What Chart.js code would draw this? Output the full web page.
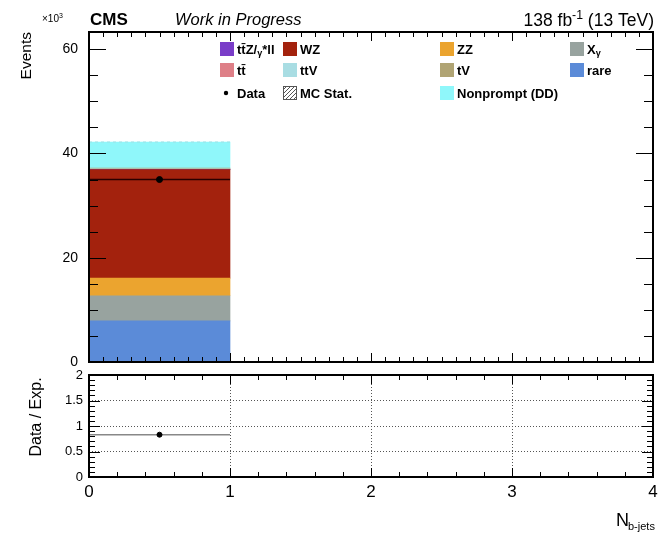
<!DOCTYPE html>
<html>
<head>
<meta charset="utf-8">
<script src="https://cdn.jsdelivr.net/npm/chart.js@4.4.1/dist/chart.umd.min.js"></script>
<style>
html, body { margin: 0; padding: 0; background: #fff; }
#wrap { position: relative; width: 658px; height: 533px; }
#topChart { position: absolute; left: 0; top: 0; }
#ratioChart { position: absolute; left: 0; top: 362px; }
</style>
</head>
<body>
<div id="wrap">
    <canvas id="topChart" width="658" height="370"></canvas>
    <canvas id="ratioChart" width="658" height="171"></canvas>
</div>
<script>
// bins of N_b-jets (edges)
var binEdges = [0, 1, 2, 3, 4];

// stacked backgrounds, events x 10^3 per bin (bottom of stack first)
var rare = [7.9, 0, 0, 0];
var xgamma = [4.8, 0, 0, 0];
var zz = [3.4, 0, 0, 0];
var wz = [20.8, 0, 0, 0];
var ttz = [0.05, 0, 0, 0];
var ttbar = [0.02, 0, 0, 0];
var ttv = [0.08, 0, 0, 0];
var tv = [0.15, 0, 0, 0];
var nonprompt = [5.0, 0, 0, 0];

// observed data, events x 10^3
var dataObs = [35.0, null, null, null];

var yTicksTop = [0, 20, 40, 60];
var yTicksRatio = [0, 0.5, 1, 1.5, 2];

var FONT = "'Liberation Sans', Arial, Helvetica, sans-serif";

var procs = [
    { key: "rare", label: "rare", values: rare, color: "#5b8bd8" },
    { key: "xg", label: "Xγ", values: xgamma, color: "#98a39f" },
    { key: "zz", label: "ZZ", values: zz, color: "#eba42f" },
    { key: "wz", label: "WZ", values: wz, color: "#a3220d" },
    { key: "ttz", label: "tt̄Z/γ*ll", values: ttz, color: "#7a3dc8" },
    { key: "tt", label: "tt̄", values: ttbar, color: "#de7f87" },
    { key: "ttv", label: "ttV", values: ttv, color: "#a9dde3" },
    { key: "tv", label: "tV", values: tv, color: "#b0a474" },
    { key: "np", label: "Nonprompt (DD)", values: nonprompt, color: "#8ff7fa" }
];

// total expectation per bin
var totalExp = binEdges.slice(0, -1).map(function (e, i) {
    let s = 0;
    procs.forEach(function (p) { s += p.values[i]; });
    return s;
});
var ratioVals = dataObs.map(function (d, i) {
    if (d === null || totalExp[i] <= 0) return null;
    return d / totalExp[i];
});

// helpers building points from bins
function binCentres(vals) {
    let out = [];
    vals.forEach(function (v, i) {
        if (v !== null) out.push({ x: (binEdges[i] + binEdges[i + 1]) / 2, y: v });
    });
    return out;
}
function binSpans(vals) {
    let out = [];
    vals.forEach(function (v, i) {
        if (v !== null) {
            out.push({ x: binEdges[i], y: v });
            out.push({ x: binEdges[i + 1], y: v });
            out.push({ x: NaN, y: NaN });
        }
    });
    return out;
}

// no automatic label padding, the frame is placed by layout.padding
function noPad(scale) {
    scale.paddingTop = 0;
    scale.paddingBottom = 0;
    scale.paddingLeft = 0;
    scale.paddingRight = 0;
}

// ROOT-like frame and inward ticks
var rootFrame = {
    id: "rootFrame",
    afterDraw: function (chart, args, opts) {
        let ctx = chart.ctx;
        let a = chart.chartArea;
        let ys = chart.scales.y;
        let xs = chart.scales[opts.xId];
        ctx.save();
        ctx.strokeStyle = "#000";
        ctx.lineWidth = 1;
        ctx.beginPath();
        let nMinor = Math.round((ys.max - ys.min) / opts.yMinor);
        for (let i = 0; i <= nMinor + 1; i++) {
            let v = ys.min + i * opts.yMinor;
            if (v > ys.max + 1e-9) break;
            let major = Math.abs(v / opts.yMajor - Math.round(v / opts.yMajor)) < 1e-6;
            let len = major ? opts.yMajorLen : opts.yMinorLen;
            let py = Math.round(ys.getPixelForValue(v)) + 0.5;
            ctx.moveTo(a.left, py); ctx.lineTo(a.left + len, py);
            ctx.moveTo(a.right, py); ctx.lineTo(a.right - len, py);
        }
        let nx = Math.round((xs.max - xs.min) / opts.xMinor);
        for (let i = 0; i <= nx; i++) {
            let v = xs.min + i * opts.xMinor;
            let major = Math.abs(v - Math.round(v)) < 1e-6;
            let len = major ? opts.xMajorLen : opts.xMinorLen;
            let px = Math.round(xs.getPixelForValue(v)) + 0.5;
            ctx.moveTo(px, a.bottom); ctx.lineTo(px, a.bottom - len);
            ctx.moveTo(px, a.top); ctx.lineTo(px, a.top + len);
        }
        ctx.stroke();
        ctx.lineWidth = 2;
        ctx.strokeRect(a.left, a.top, a.right - a.left, a.bottom - a.top);
        ctx.restore();
    }
};

// draw text made of parts, sub/sup parts are smaller
function richText(ctx, parts, x, y, size, weight, align) {
    let w = 0;
    parts.forEach(function (p) {
        let s = p.s ? size * 0.7 : size;
        ctx.font = weight + " " + s + "px " + FONT;
        p.w = ctx.measureText(p.t).width;
        w += p.w;
    });
    let cx = align === "right" ? x - w : x;
    parts.forEach(function (p) {
        let s = p.s ? size * 0.7 : size;
        ctx.font = weight + " " + s + "px " + FONT;
        let dy = p.s === "sub" ? size * 0.25 : (p.s === "sup" ? -size * 0.4 : 0);
        ctx.fillText(p.t, cx, y + dy);
        cx += p.w;
    });
}

var legendParts = {
    ttz: [{ t: "tt̄Z/" }, { t: "γ", s: "sub" }, { t: "*ll" }],
    xg: [{ t: "X" }, { t: "γ", s: "sub" }]
};

var topDecor = {
    id: "topDecor",
    afterDraw: function (chart) {
        let ctx = chart.ctx;
        ctx.save();
        ctx.fillStyle = "#000";
        ctx.textBaseline = "alphabetic";
        ctx.font = "bold 17px " + FONT;
        ctx.fillText("CMS", 90, 25);
        ctx.font = "italic 16.5px " + FONT;
        ctx.fillText("Work in Progress", 175, 25);
        richText(ctx, [{ t: "138 fb" }, { t: "-1", s: "sup" }, { t: " (13 TeV)" }], 654, 26, 17.5, "normal", "right");
        richText(ctx, [{ t: "×10" }, { t: "3", s: "sup" }], 42, 22, 10, "normal", "left");

        // y title
        ctx.save();
        ctx.translate(31, 32);
        ctx.rotate(-Math.PI / 2);
        ctx.font = "15.5px " + FONT;
        ctx.textAlign = "right";
        ctx.fillText("Events", 0, 0);
        ctx.restore();

        // legend
        let cols = [220, 283, 440, 570];
        let rows = [49, 70, 93];
        let layout = [
            ["ttz", 0, 0], ["wz", 1, 0], ["zz", 2, 0], ["xg", 3, 0],
            ["tt", 0, 1], ["ttv", 1, 1], ["tv", 2, 1], ["rare", 3, 1],
            ["np", 2, 2]
        ];
        ctx.textBaseline = "middle";
        layout.forEach(function (l) {
            let p = procs.find(function (q) { return q.key === l[0]; });
            let x = cols[l[1]], y = rows[l[2]];
            ctx.fillStyle = p.color;
            ctx.fillRect(x, y - 7, 14, 14);
            ctx.fillStyle = "#000";
            let parts = legendParts[p.key] || [{ t: p.label }];
            richText(ctx, parts, x + 17, y + 1, 13, "bold", "left");
        });
        // data entry
        ctx.beginPath();
        ctx.arc(cols[0] + 6, rows[2], 2.2, 0, Math.PI * 2);
        ctx.fill();
        ctx.font = "bold 13px " + FONT;
        ctx.fillText("Data", cols[0] + 17, rows[2] + 1);
        // MC stat entry, hatched box
        let hx = cols[1], hy = rows[2] - 7;
        ctx.strokeStyle = "#555";
        ctx.lineWidth = 1;
        ctx.strokeRect(hx + 0.5, hy + 0.5, 13, 13);
        ctx.save();
        ctx.beginPath();
        ctx.rect(hx, hy, 14, 14);
        ctx.clip();
        ctx.beginPath();
        for (let k = -14; k < 14; k += 4) {
            ctx.moveTo(hx + k, hy + 14);
            ctx.lineTo(hx + k + 14, hy);
        }
        ctx.stroke();
        ctx.restore();
        ctx.fillStyle = "#000";
        ctx.fillText("MC Stat.", cols[1] + 17, rows[2] + 1);
        ctx.restore();
    }
};

var ratioDecor = {
    id: "ratioDecor",
    afterDraw: function (chart) {
        let ctx = chart.ctx;
        ctx.save();
        ctx.fillStyle = "#000";
        ctx.translate(41, 0);
        ctx.rotate(-Math.PI / 2);
        ctx.font = "16px " + FONT;
        ctx.textAlign = "center";
        ctx.fillText("Data / Exp.", -55, 0);
        ctx.restore();
        ctx.save();
        ctx.fillStyle = "#000";
        ctx.font = "18px " + FONT;
        ctx.fillText("N", 616, 164);
        ctx.font = "11px " + FONT;
        ctx.fillText("b-jets", 628, 168);
        ctx.restore();
    }
};

var barSets = procs.map(function (p) {
    return {
        type: "bar",
        label: p.label,
        data: binCentres(p.values),
        backgroundColor: p.color,
        borderWidth: 0,
        barPercentage: 1,
        categoryPercentage: 1,
        stack: "mc"
    };
});

new Chart("topChart", {
    type: "bar",
    data: {
        datasets: barSets.concat([
            {
                type: "line",
                label: "MC Stat.",
                data: binSpans(totalExp.map(function (t) { return t > 0 ? t : null; })),
                stack: "stat",
                order: -1,
                borderColor: "#9fe0e4",
                borderWidth: 1,
                borderDash: [3, 3],
                pointRadius: 0,
                spanGaps: false
            },
            {
                type: "line",
                label: "Data err",
                data: binSpans(dataObs),
                stack: "derr",
                order: -2,
                borderColor: "#2a0000",
                borderWidth: 1.5,
                pointRadius: 0,
                spanGaps: false
            },
            {
                type: "scatter",
                label: "Data",
                data: binCentres(dataObs),
                stack: "data",
                order: -3,
                backgroundColor: "#000",
                borderColor: "#000",
                pointRadius: 3
            }
        ])
    },
    options: {
        responsive: false,
        animation: false,
        layout: { padding: { left: 0, right: 4, top: 32, bottom: 8 } },
        plugins: {
            legend: { display: false },
            tooltip: { enabled: false },
            rootFrame: { xId: "x", yMinor: 5, yMajor: 20, yMajorLen: 17, yMinorLen: 9, xMinor: 0.1, xMajorLen: 9, xMinorLen: 5 }
        },
        scales: {
            x: {
                type: "linear",
                display: false,
                min: 0,
                max: 4,
                offset: false,
                afterBuildTicks: function (scale) {
                    scale.ticks = binEdges.map(function (v) { return { value: v }; });
                },
                afterFit: noPad
            },
            y: {
                stacked: true,
                min: 0,
                max: 63.3,
                afterBuildTicks: function (scale) {
                    scale.ticks = yTicksTop.map(function (v) { return { value: v }; });
                },
                afterFit: function (scale) { scale.width = 89; noPad(scale); },
                grid: { display: false, drawTicks: false },
                border: { display: false },
                ticks: { color: "#000", padding: 11, font: { family: FONT, size: 14 } }
            }
        }
    },
    plugins: [rootFrame, topDecor]
});

new Chart("ratioChart", {
    type: "line",
    data: {
        datasets: [
            {
                label: "ratio err",
                data: binSpans(ratioVals),
                borderColor: "#888",
                borderWidth: 1.5,
                pointRadius: 0,
                spanGaps: false
            },
            {
                type: "scatter",
                label: "Data / Exp.",
                data: binCentres(ratioVals),
                order: -1,
                backgroundColor: "#000",
                borderColor: "#000",
                pointRadius: 2.5
            }
        ]
    },
    options: {
        responsive: false,
        animation: false,
        layout: { padding: { left: 0, right: 4, top: 13, bottom: 0 } },
        plugins: {
            legend: { display: false },
            tooltip: { enabled: false },
            rootFrame: { xId: "x", yMinor: 0.1, yMajor: 0.5, yMajorLen: 11, yMinorLen: 6, xMinor: 0.2, xMajorLen: 9, xMinorLen: 5 }
        },
        scales: {
            x: {
                type: "linear",
                min: 0,
                max: 4,
                afterBuildTicks: function (scale) {
                    scale.ticks = binEdges.map(function (v) { return { value: v }; });
                },
                afterFit: function (scale) { scale.height = 56; noPad(scale); },
                grid: { color: "#555", lineWidth: 1, drawTicks: false },
                border: { display: false, dash: [1, 2] },
                ticks: { color: "#000", padding: 5, maxRotation: 0, font: { family: FONT, size: 17 } }
            },
            y: {
                min: 0,
                max: 2,
                afterBuildTicks: function (scale) {
                    scale.ticks = yTicksRatio.map(function (v) { return { value: v }; });
                },
                afterFit: function (scale) { scale.width = 89; noPad(scale); },
                grid: { color: "#555", lineWidth: 1, drawTicks: false },
                border: { display: false, dash: [1, 2] },
                ticks: {
                    color: "#000",
                    padding: 6,
                    font: { family: FONT, size: 13 },
                    callback: function (v) { return String(v); }
                }
            }
        }
    },
    plugins: [rootFrame, ratioDecor]
});
</script>
</body>
</html>
